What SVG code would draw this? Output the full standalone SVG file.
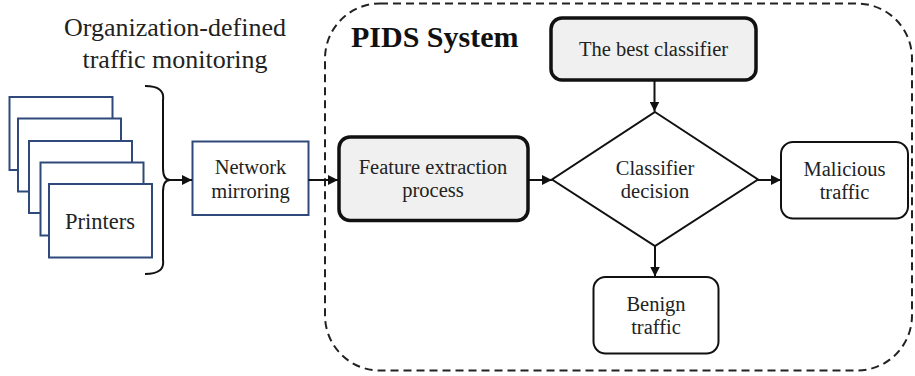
<svg xmlns="http://www.w3.org/2000/svg" width="915" height="376" viewBox="0 0 915 376">
<defs>
<style>
text{font-family:"Liberation Serif","DejaVu Serif",serif;fill:#222;text-anchor:middle}
.n{font-size:20.5px}
.t{font-size:26px}
.b{font-size:30px;font-weight:bold;text-anchor:start;fill:#111}
.pr{fill:#fff;stroke:#2f4a7a;stroke-width:2}
.rb{fill:#fff;stroke:#111;stroke-width:2}
.thick{fill:#f0f0f0;stroke:#111;stroke-width:3.5}
.c{fill:none;stroke:#111;stroke-width:2}
</style>
<marker id="ah" viewBox="0 0 10 10" refX="10" refY="5" markerWidth="10" markerHeight="10" markerUnits="userSpaceOnUse" orient="auto">
<path d="M0,0 L10,5 L0,10 z" fill="#111"/>
</marker>
</defs>
<rect width="915" height="376" fill="#fff"/>
<g id="pids-system">
<rect x="325" y="3.5" width="587" height="367" rx="55" ry="55" fill="none" stroke="#222" stroke-width="2" stroke-dasharray="8,5"/>
<text class="b" x="351" y="47">PIDS System</text>
</g>
<g id="title">
<text class="t" x="175" y="36">Organization-defined</text>
<text class="t" x="175" y="68">traffic monitoring</text>
</g>
<g id="printers">
<rect class="pr" x="9.5" y="97" width="103" height="73"/>
<rect class="pr" x="18" y="118.5" width="103" height="73"/>
<rect class="pr" x="29" y="141" width="103" height="72"/>
<rect class="pr" x="40.5" y="162.5" width="103" height="73"/>
<rect class="pr" x="49" y="184" width="103" height="73.5"/>
<text class="n" x="100" y="228.5" style="font-size:22.5px">Printers</text>
</g>
<g id="brace">
<path d="M145,86 Q165,86 163,100 L163,168 Q163,180 170,180 Q163,180 163,192 L163,260 Q165,274 145,274" fill="none" stroke="#111" stroke-width="2"/>
</g>
<g id="network-mirroring">
<rect class="pr" x="192.5" y="141.5" width="116" height="73.5"/>
<text class="n" x="250.5" y="173.5">Network</text>
<text class="n" x="250.5" y="197.5">mirroring</text>
</g>
<g id="feature-extraction">
<rect class="thick" x="339" y="137" width="189" height="83.5" rx="11" ry="11"/>
<text class="n" x="433" y="174">Feature extraction</text>
<text class="n" x="433" y="197">process</text>
</g>
<g id="best-classifier">
<rect class="thick" x="551" y="18" width="205" height="62" rx="11" ry="11"/>
<text class="n" x="653.5" y="56">The best classifier</text>
</g>
<g id="classifier-decision">
<path class="rb" d="M655,112 L758,179.5 L655,246 L552,179.5 z"/>
<text class="n" x="655" y="174.5">Classifier</text>
<text class="n" x="655" y="197.5">decision</text>
</g>
<g id="malicious-traffic">
<rect class="rb" x="781" y="142" width="127" height="76.5" rx="12" ry="12"/>
<text class="n" x="844.5" y="175.5">Malicious</text>
<text class="n" x="844.5" y="198.5">traffic</text>
</g>
<g id="benign-traffic">
<rect class="rb" x="593.5" y="277" width="125" height="76.5" rx="12" ry="12"/>
<text class="n" x="656" y="311">Benign</text>
<text class="n" x="656" y="333.5">traffic</text>
</g>
<g id="connectors">
<line class="c" x1="170" y1="180" x2="192" y2="180" marker-end="url(#ah)"/>
<line class="c" x1="308.5" y1="180" x2="338" y2="180" marker-end="url(#ah)"/>
<line class="c" x1="529" y1="180" x2="552" y2="180" marker-end="url(#ah)"/>
<line class="c" x1="654.5" y1="81" x2="654.5" y2="111.5" marker-end="url(#ah)"/>
<line class="c" x1="758" y1="180" x2="781" y2="180" marker-end="url(#ah)"/>
<line class="c" x1="655" y1="246" x2="655" y2="276.5" marker-end="url(#ah)"/>
</g>
</svg>
